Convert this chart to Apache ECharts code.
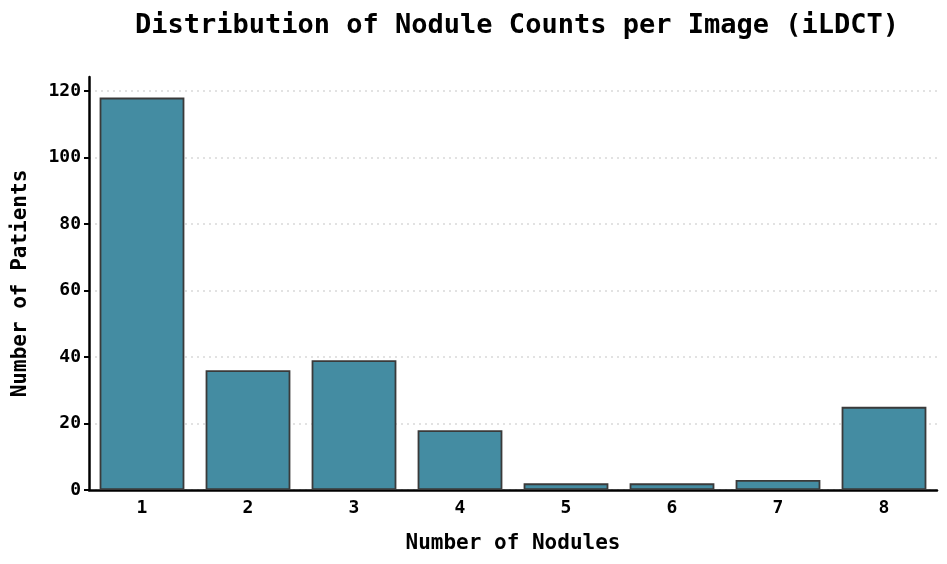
<html lang="en">
<head>
    <meta charset="UTF-8">
    <title>nodule counts</title>
</head>
<body style="margin:0">
    <div id="container" style="width:947px;height:564px"></div>
    <script src="https://cdn.jsdelivr.net/npm/echarts@6/dist/echarts.min.js"></script>
    <script>
        var noduleCounts = ['1', '2', '3', '4', '5', '6', '7', '8'];
        var patients = [118, 36, 39, 18, 2, 2, 3, 25];
        var yTicks = [0, 20, 40, 60, 80, 100, 120];

        var font = 'DejaVu Sans Mono';
        var myChart = echarts.init(document.getElementById('container'));
        var option = {
            backgroundColor: 'white',
            animation: false,
            title: {
                text: 'Distribution of Nodule Counts per Image (iLDCT)',
                left: 512,
                textAlign: 'center',
                top: 7,
                textStyle: {fontFamily: font, fontSize: 27, fontWeight: 'bold', color: '#000'}
            },
            grid: {left: 89, right: 10, top: 77, bottom: 74},
            xAxis: {
                type: 'category',
                data: noduleCounts,
                name: 'Number of Nodules',
                nameLocation: 'middle',
                nameGap: 43,
                nameTextStyle: {fontFamily: font, fontSize: 21, fontWeight: 'bold', color: '#000'},
                axisLine: {lineStyle: {color: '#000', width: 2.5}},
                axisTick: {alignWithLabel: true, length: 5, lineStyle: {color: '#000', width: 2}},
                axisLabel: {fontFamily: font, fontSize: 18, fontWeight: 'bold', color: '#000', margin: 9}
            },
            yAxis: {
                type: 'value',
                min: 0,
                max: 124.2,
                interval: 20,
                name: 'Number of Patients',
                nameLocation: 'middle',
                nameGap: 58,
                nameTextStyle: {fontFamily: font, fontSize: 21, fontWeight: 'bold', color: '#000'},
                axisLine: {show: true, lineStyle: {color: '#000', width: 2.5}},
                axisTick: {show: true, length: 5, lineStyle: {color: '#000', width: 2}},
                axisLabel: {
                    fontFamily: font, fontSize: 18, fontWeight: 'bold', color: '#000', margin: 8,
                    showMaxLabel: false,
                    formatter: function (v) { return yTicks.indexOf(v) >= 0 ? String(v) : ''; }
                },
                splitLine: {showMaxLine: false, lineStyle: {color: '#d9d9d9', type: [2, 4], width: 1.5}}
            },
            series: [{
                type: 'bar',
                data: patients,
                barWidth: '80%',
                itemStyle: {color: '#448ca2', borderColor: '#3a3a3a', borderWidth: 1.8}
            }]
        };
        myChart.setOption(option);
    </script>
</body>
</html>
